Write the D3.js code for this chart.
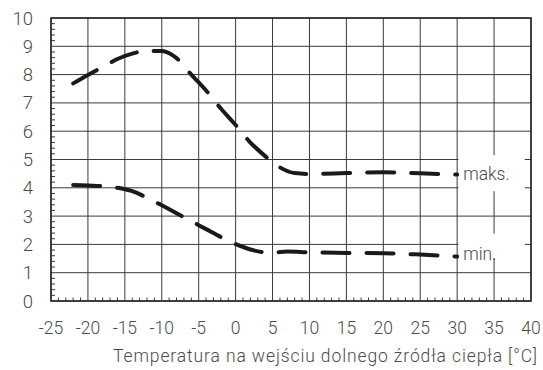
<!DOCTYPE html>
<html>
<head>
<meta charset="utf-8">
<script src="https://cdn.jsdelivr.net/npm/d3@7"></script>
<style>
  html, body { margin: 0; padding: 0; background: #fff; }
  svg text { font-family: Roboto, "Liberation Sans", Arial, sans-serif; font-weight: 300; fill: #4a4a4a; }
</style>
</head>
<body>
<svg id="chart" width="543" height="370"></svg>
<script>
// Temperature at the lower source inlet (°C)
const tempMax = [-22, -20, -18, -16, -14, -12, -10, -8, -6, -4, -2, 0, 2, 4, 6, 8, 10, 15, 20, 25, 30];
const valMax  = [7.69, 7.99, 8.27, 8.55, 8.74, 8.84, 8.83, 8.58, 8.0, 7.44, 6.8, 6.22, 5.6, 5.12, 4.72, 4.52, 4.49, 4.52, 4.55, 4.51, 4.47];

const tempMin = [-22, -20, -18, -16, -14, -12, -10, -8, -6, -4, -2, 0, 2, 4, 5, 7, 10, 15, 20, 25, 30];
const valMin  = [4.10, 4.08, 4.06, 4.0, 3.88, 3.65, 3.38, 3.10, 2.82, 2.54, 2.26, 2.01, 1.82, 1.72, 1.71, 1.75, 1.72, 1.70, 1.69, 1.64, 1.57];

const xTicks = [-25, -20, -15, -10, -5, 0, 5, 10, 15, 20, 25, 30, 35, 40];
const yTicks = [0, 1, 2, 3, 4, 5, 6, 7, 8, 9, 10];
const seriesLabels = ["maks.", "min."];
const axisTitle = "Temperatura na wejściu dolnego źródła ciepła [°C]";

const svg = d3.select("#chart");
const x = d3.scaleLinear().domain([-25, 40]).range([51, 531]);
const y = d3.scaleLinear().domain([0, 10]).range([301, 18]);

const grid = svg.append("g").attr("stroke", "#3a3a3a").attr("stroke-width", 1);

// vertical grid lines
grid.selectAll("line.vx").data(xTicks).join("line")
  .attr("x1", d => x(d)).attr("x2", d => x(d))
  .attr("y1", y(10)).attr("y2", y(0));

// horizontal grid lines
grid.selectAll("line.hy").data(yTicks).join("line")
  .attr("x1", x(-25)).attr("x2", x(40))
  .attr("y1", d => y(d)).attr("y2", d => y(d));

// minor ticks along the bottom edge (every 1 °C)
const xMinor = d3.range(-25, 40.001, 1).filter(d => d % 5 !== 0);
grid.selectAll("line.mx").data(xMinor).join("line")
  .attr("x1", d => x(d)).attr("x2", d => x(d))
  .attr("y1", y(0)).attr("y2", y(0) - 3.5);

// minor ticks along the left edge (every 0.2)
const yMinor = d3.range(0, 10.001, 0.2).filter(d => Math.abs(d - Math.round(d)) > 1e-6);
grid.selectAll("line.my").data(yMinor).join("line")
  .attr("x1", x(-25)).attr("x2", x(-25) + 4)
  .attr("y1", d => y(d)).attr("y2", d => y(d));

// frame
svg.append("rect")
  .attr("x", x(-25)).attr("y", y(10))
  .attr("width", x(40) - x(-25)).attr("height", y(0) - y(10))
  .attr("fill", "none").attr("stroke", "#2a2a2a").attr("stroke-width", 1.6);

// label boxes hiding the grid behind the series names
svg.append("rect")
  .attr("x", x(30) + 1.2).attr("y", y(5.15))
  .attr("width", x(39.15) - x(30) - 1.2).attr("height", y(3.88) - y(5.15))
  .attr("fill", "#fff");
svg.append("rect")
  .attr("x", x(30) + 1.2).attr("y", y(2.38))
  .attr("width", x(39.15) - x(30) - 1.2).attr("height", y(1.52) - y(2.38))
  .attr("fill", "#fff");

// curves
const line = d3.line().x(d => x(d[0])).y(d => y(d[1])).curve(d3.curveMonotoneX);
const maxData = tempMax.map((t, i) => [t, valMax[i]]);
const minData = tempMin.map((t, i) => [t, valMin[i]]);

[maxData, minData].forEach(data => {
  svg.append("path")
    .attr("d", line(data))
    .attr("fill", "none")
    .attr("stroke", "#1a1a1a")
    .attr("stroke-width", 4)
    .attr("stroke-linecap", "round")
    .attr("stroke-dasharray", "27,17");
});

// series names
svg.append("text").attr("x", x(30) + 6).attr("y", y(4.47) + 6)
  .attr("font-size", 17.5).text(seriesLabels[0]);
svg.append("text").attr("x", x(30) + 6).attr("y", y(1.66) + 6)
  .attr("font-size", 17.5).text(seriesLabels[1]);

// y tick labels
svg.selectAll("text.yl").data(yTicks).join("text")
  .attr("x", 33).attr("y", d => y(d) + 6.5)
  .attr("text-anchor", "end").attr("font-size", 18.5)
  .text(d => d);

// x tick labels
svg.selectAll("text.xl").data(xTicks).join("text")
  .attr("x", d => x(d)).attr("y", 334)
  .attr("text-anchor", "middle").attr("font-size", 17.5)
  .text(d => d);

// axis title
svg.append("text").attr("x", 537).attr("y", 362)
  .attr("text-anchor", "end").attr("font-size", 17.5)
  .attr("textLength", 424).attr("lengthAdjust", "spacing")
  .text(axisTitle);
</script>
</body>
</html>
